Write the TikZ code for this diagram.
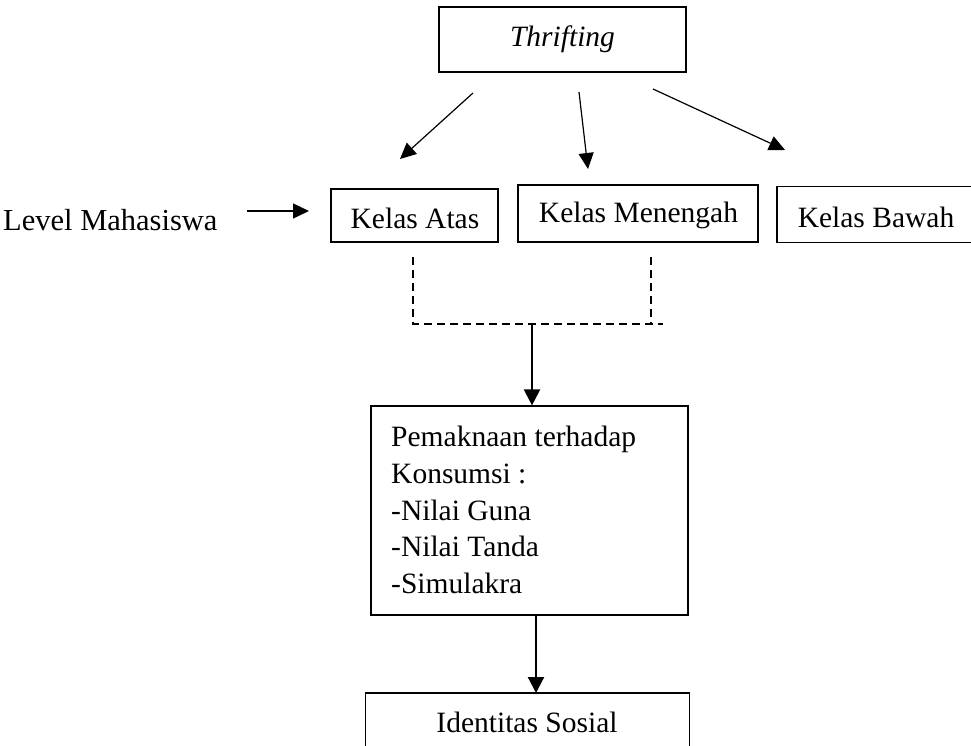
\documentclass[tikz,border=0pt]{standalone}
\usepackage{fontspec}
\setmainfont{Liberation Serif}
\usetikzlibrary{arrows.meta}
\begin{document}
\begin{tikzpicture}[x=1pt,y=-1pt,
  every node/.style={inner sep=0pt, font=\fontsize{29.5}{36.7}\selectfont},
  box/.style={draw, line width=1.2pt, rectangle},
  thinarrow/.style={line width=1.2pt, -{Triangle[length=16pt,width=15pt]}},
  thickarrow/.style={line width=2.2pt, -{Triangle[length=16pt,width=16pt]}},
  dashline/.style={line width=1.2pt, dash pattern=on 8pt off 5pt}]
\useasboundingbox (0,0) rectangle (971,746);
% top
\node[box, minimum width=247pt, minimum height=65pt] (thr) at (562.5,39.5) {\itshape Thrifting};
% row
\node[box, minimum width=167pt, minimum height=53pt] (atas) at (414.5,215.5) {};
\node (atast) at (415,218) {Kelas Atas};
\node[box, minimum width=240pt, minimum height=57pt] (men) at (638,213.5) {};
\node (ment) at (638.5,215) {Kelas Menengah};
\node[minimum width=194pt, minimum height=55pt, anchor=west] (baw) at (777,214.5) {};
\draw[line width=1.2pt] (baw.north east) -- (baw.north west) -- (baw.south west) -- (baw.south east);
\node (bawt) at (876,217) {Kelas Bawah};
\node[anchor=west, font=\fontsize{30.5}{36.7}\selectfont] (lvl) at (3,220) {Level Mahasiswa};
% arrows from Thrifting
\coordinate (s1) at (473,93);  \coordinate (e1) at (400,159);
\coordinate (s2) at (579,92);  \coordinate (e2) at (588,169);
\coordinate (s3) at (653,89);  \coordinate (e3) at (785,150);
\draw[thinarrow] (s1) -- (e1);
\draw[thinarrow] (s2) -- (e2);
\draw[thinarrow] (s3) -- (e3);
\coordinate (ls) at (247,211); \coordinate (le) at (309,211);
\draw[thinarrow] (ls) -- (le);
% dashed
\coordinate (d1) at (413,257); \coordinate (d2) at (413,324);
\coordinate (d3) at (663,324);
\coordinate (d4) at (651,257); \coordinate (d5) at (651,324);
\draw[dashline] (d1) -- (d2) -- (d3);
\draw[dashline] (d4) -- (d5);
% Pemaknaan
\node[box, minimum width=317pt, minimum height=209pt] (pm) at (529.5,510.5) {};
\node[anchor=west, align=left] (pmt) at (391,510) {Pemaknaan terhadap\\Konsumsi :\\-Nilai Guna\\-Nilai Tanda\\-Simulakra};
\coordinate (m1) at (532,325);
\draw[thickarrow] (m1) -- (pm.north -| m1);
% Identitas
\node[minimum width=323pt, minimum height=53pt, anchor=north] (id) at (527.5,693) {};
\draw[line width=1.2pt] (id.south west) -- (id.north west) -- (id.north east) -- (id.south east);
\node (idt) at (527,722) {Identitas Sosial};
\coordinate (m2) at (536,615);
\draw[thickarrow] (m2) -- (id.north -| m2);
\end{tikzpicture}
\end{document}
